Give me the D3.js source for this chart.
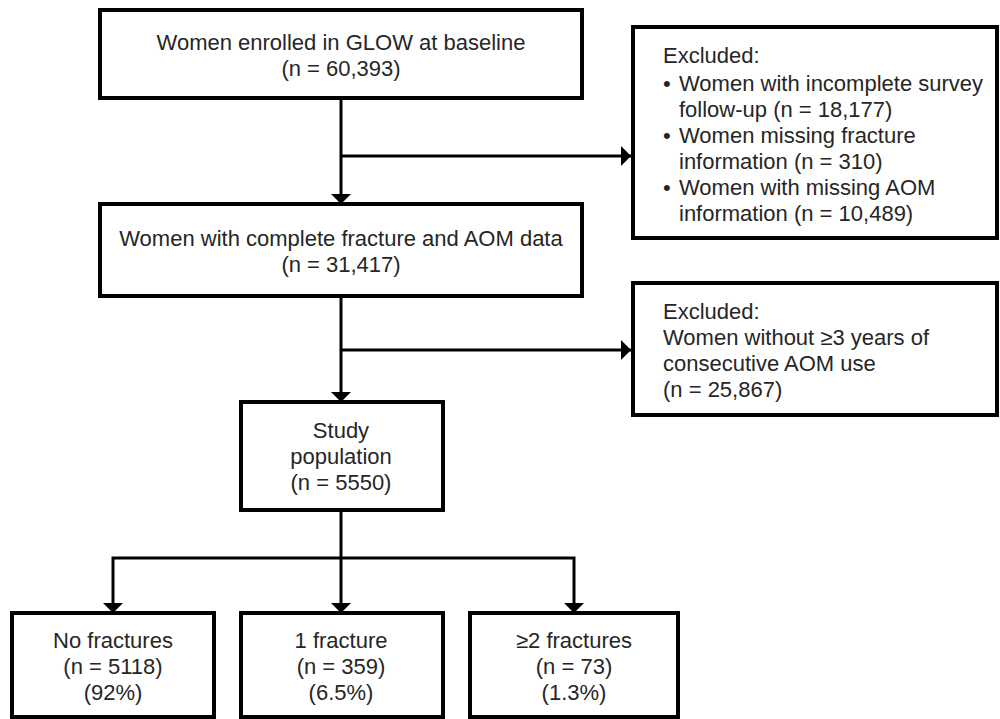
<!DOCTYPE html>
<html>
<head>
<meta charset="utf-8">
<script src="https://cdn.jsdelivr.net/npm/d3@7"></script>
<style>
  body { margin: 0; background: #fff; }
  svg { display: block; }
  text { font-family: "Liberation Sans", Arial, sans-serif; font-size: 22px; fill: #262626; }
</style>
</head>
<body>
<svg id="chart" width="1000" height="719"></svg>
<script>
// flow steps (main column)
var mainLabels = [
    ['Women enrolled in GLOW at baseline', '(n = 60,393)'],
    ['Women with complete fracture and AOM data', '(n = 31,417)'],
    ['Study', 'population', '(n = 5550)']
];
// exclusion boxes
var excludedTitle = 'Excluded:';
var excluded1 = [
    ['Women with incomplete survey', 'follow-up (n = 18,177)'],
    ['Women missing fracture', 'information (n = 310)'],
    ['Women with missing AOM', 'information (n = 10,489)']
];
var excluded2 = ['Women without \u22653 years of', 'consecutive AOM use', '(n = 25,867)'];
// outcome groups
var outcomes = ['No fractures', '1 fracture', '\u22652 fractures'];
var outcomeN = [5118, 359, 73];
var outcomePct = ['92%', '6.5%', '1.3%'];

(function() {
    var svg = d3.select('#chart');
    var lh = 26;

    svg.append('defs').append('marker')
        .attr('id', 'arrow')
        .attr('viewBox', '0 0 6 12')
        .attr('refX', 6).attr('refY', 6)
        .attr('markerWidth', 3.5).attr('markerHeight', 7)
        .attr('markerUnits', 'strokeWidth')
        .attr('orient', 'auto')
        .append('path').attr('d', 'M0,0L6,6L0,12Z').attr('fill', '#000');

    function box(x, y, w, h) {
        svg.append('rect')
            .attr('x', x).attr('y', y).attr('width', w).attr('height', h)
            .attr('fill', '#fff').attr('stroke', '#000').attr('stroke-width', 4);
    }
    function centred(lines, cx, cy) {
        var top = cy - (lines.length - 1) * lh / 2;
        svg.append('g').selectAll('text').data(lines).enter().append('text')
            .attr('x', cx)
            .attr('y', function(d, i) { return top + i * lh; })
            .attr('dy', '0.35em')
            .attr('text-anchor', 'middle')
            .text(function(d) { return d; });
    }
    function line(pts, arrow) {
        var p = svg.append('path')
            .attr('d', d3.line()(pts))
            .attr('fill', 'none').attr('stroke', '#000').attr('stroke-width', 3);
        if (arrow) p.attr('marker-end', 'url(#arrow)');
    }

    var cx = 341;

    // connectors
    line([[cx, 98], [cx, 204]], true);
    line([[cx, 156], [631, 156]], true);
    line([[cx, 296], [cx, 402]], true);
    line([[cx, 350], [631, 350]], true);
    line([[cx, 510], [cx, 558]], false);

    var outX = d3.scalePoint().domain(outcomes).range([113, 574]);
    outX.domain().forEach(function(d, i) {
        var x = i === 1 ? cx : outX(d);
        line([[cx, 558], [x, 558], [x, 613]], true);
    });

    // main boxes
    box(100, 10, 482, 88);
    centred(mainLabels[0], cx, 55);
    box(100, 204, 482, 92);
    centred(mainLabels[1], cx, 251);
    box(241, 402, 202, 108);
    centred(mainLabels[2], cx, 456);

    // excluded box 1
    box(633, 27, 364, 211);
    svg.append('text').attr('x', 663).attr('y', 55).attr('dy', '0.35em').text(excludedTitle);
    excluded1.forEach(function(item, i) {
        var y0 = 83 + i * 2 * lh;
        svg.append('text').attr('x', 663).attr('y', y0).attr('dy', '0.35em').text('\u2022');
        item.forEach(function(t, j) {
            svg.append('text').attr('x', 679).attr('y', y0 + j * lh).attr('dy', '0.35em').text(t);
        });
    });

    // excluded box 2
    box(633, 283, 364, 132);
    svg.append('g').selectAll('text').data([excludedTitle].concat(excluded2)).enter().append('text')
        .attr('x', 663)
        .attr('y', function(d, i) { return 311 + i * lh; })
        .attr('dy', '0.35em')
        .text(function(d) { return d; });

    // outcome boxes
    var boxX = [12, 241, 470];
    outcomes.forEach(function(d, i) {
        box(boxX[i], 613, i === 2 ? 208 : 202, 104);
        var x = i === 1 ? cx : outX(d);
        centred([d, '(n = ' + outcomeN[i] + ')', '(' + outcomePct[i] + ')'], x, 666);
    });
})();
</script>
</body>
</html>
